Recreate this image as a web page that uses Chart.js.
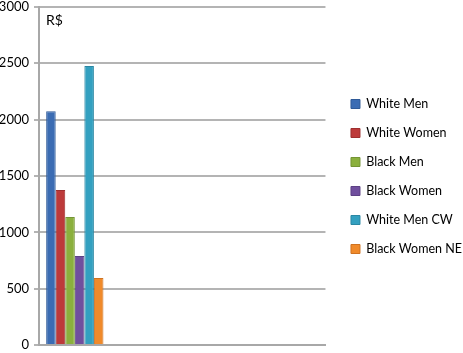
<!DOCTYPE html>
<html>
<head>
<meta charset="utf-8">
<script src="https://cdn.jsdelivr.net/npm/chart.js@4"></script>
<style>
  html, body { margin: 0; padding: 0; background: #fff; }
  #wrap { width: 463px; height: 353px; }
</style>
</head>
<body>
<div id="wrap"><canvas id="chart" width="463" height="353"></canvas></div>
<script>
// categories (only the first slot holds values, the rest stay empty)
const categories = ['', '', '', ''];

// series names and their values (R$)
const seriesNames = ['White Men', 'White Women', 'Black Men', 'Black Women', 'White Men CW', 'Black Women NE'];
const seriesValues = [2075, 1375, 1135, 790, 2475, 595];

// colours for each series
const fillColors = ['#3b6cb3', '#bd3a3a', '#8bb03d', '#704f9e', '#33a0c0', '#f08a2a'];
const edgeColors = ['#2f5a98', '#9e2f2f', '#749434', '#5d4185', '#2a87a3', '#cf7220'];

// y axis ticks
const yTicks = [0, 500, 1000, 1500, 2000, 2500, 3000];

const FONT = 'Lato';

const datasets = seriesNames.map((name, i) => ({
  label: name,
  data: categories.map((c, j) => (j === 0 ? seriesValues[i] : null)),
  backgroundColor: fillColors[i],
  borderColor: edgeColors[i],
  borderWidth: 1
}));

// puts the "R$" unit inside the top left of the plot
const unitLabel = {
  id: 'unitLabel',
  afterDraw(chart) {
    const ctx = chart.ctx;
    const area = chart.chartArea;
    ctx.save();
    ctx.fillStyle = '#000';
    ctx.font = '14px "' + FONT + '"';
    ctx.textBaseline = 'middle';
    ctx.fillText('R$', area.left + 7, area.top + 14);
    ctx.restore();
  }
};

function drawChart() {
  new Chart(document.getElementById('chart'), {
    type: 'bar',
    data: { labels: categories, datasets: datasets },
    options: {
      responsive: false,
      animation: false,
      layout: { padding: { top: 0, right: -9, bottom: 0, left: 0 } },
      datasets: { bar: { categoryPercentage: 0.8, barPercentage: 1 } },
      scales: {
        x: {
          grid: { display: false },
          border: { color: '#a8a8a8', width: 2 },
          ticks: { display: false }
        },
        y: {
          min: 0,
          max: 3000,
          afterBuildTicks(axis) { axis.ticks = yTicks.map(v => ({ value: v })); },
          afterFit(scale) { scale.width = 39; },
          ticks: {
            color: '#000',
            font: { family: FONT, size: 13, lineHeight: 0.3 },
            padding: 5,
            callback: v => String(v)
          },
          grid: { color: '#b4b4b4', lineWidth: 2, tickLength: 5 },
          border: { color: '#a8a8a8', width: 2 }
        },
        // empty spacer between the plot and the legend
        gap: {
          axis: 'y',
          position: 'right',
          grid: { display: false },
          border: { display: false },
          ticks: { display: false },
          afterFit(scale) { scale.width = 9; }
        }
      },
      plugins: {
        legend: {
          position: 'right',
          maxWidth: 200,
          labels: {
            boxWidth: 9,
            boxHeight: 9,
            padding: 16.5,
            color: '#000',
            font: { family: FONT, size: 12.5 }
          }
        },
        tooltip: { enabled: false }
      }
    },
    plugins: [unitLabel]
  });
}

document.fonts.load('12.5px "' + FONT + '"').then(drawChart, drawChart);
</script>
</body>
</html>
